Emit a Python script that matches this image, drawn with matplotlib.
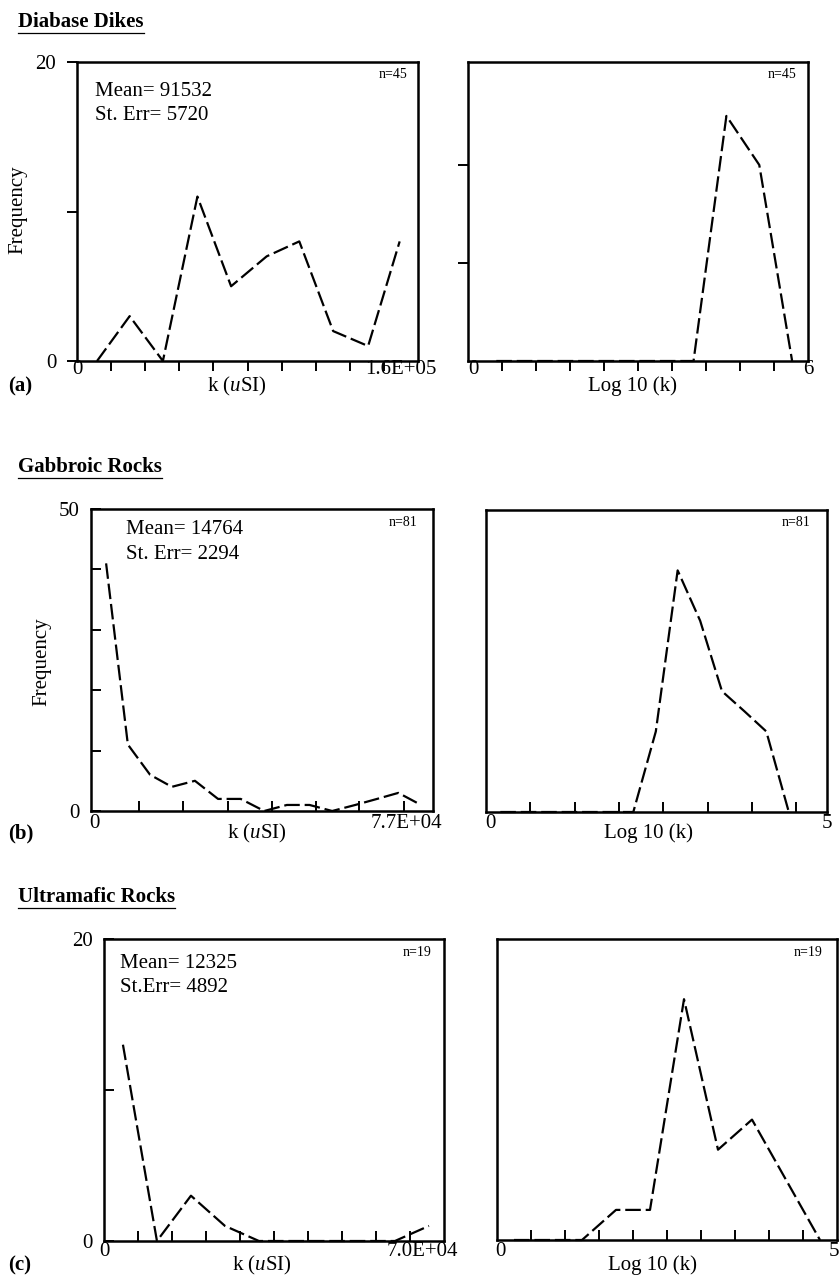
import matplotlib
matplotlib.use('Agg')
import matplotlib.pyplot as plt
from matplotlib.lines import Line2D

# ---------------- data ----------------
a_lin_x = [9400, 24700, 40300, 56500, 72300, 89000, 104300, 120200, 136600, 151400]
a_lin_y = [0, 3, 0, 11, 5, 7, 8, 2, 1, 8]
a_log_x = [0.50, 1.08, 1.66, 2.24, 2.82, 3.40, 3.98, 4.56, 5.14, 5.72]
a_log_y = [0, 0, 0, 0, 0, 0, 0, 25, 20, 0]

b_lin_x = [3400, 8300, 13300, 18200, 23400, 28600, 33700, 39000, 44100, 49200,
           54300, 59500, 64400, 69200, 74300]
b_lin_y = [41, 11, 6, 4, 5, 2, 2, 0, 1, 1, 0, 1, 2, 3, 1]
b_log_x = [0.21, 0.54, 0.86, 1.19, 1.51, 1.84, 2.16, 2.49, 2.81, 3.14, 3.46, 3.79, 4.11, 4.44]
b_log_y = [0, 0, 0, 0, 0, 0, 0, 8, 24, 19, 12, 10, 8, 0]

c_lin_x = [3900, 10900, 17900, 24900, 31900, 38900, 45900, 52900, 59900, 66900]
c_lin_y = [13, 0, 3, 1, 0, 0, 0, 0, 0, 1]
c_log_x = [0.25, 0.75, 1.25, 1.75, 2.25, 2.75, 3.25, 3.75, 4.25, 4.75]
c_log_y = [0, 0, 0, 1, 1, 8, 3, 4, 2, 0]

titles = ["Diabase Dikes", "Gabbroic Rocks", "Ultramafic Rocks"]
panel_tags = ["(a)", "(b)", "(c)"]
stats = [["Mean= 91532", "St. Err= 5720"],
         ["Mean= 14764", "St. Err= 2294"],
         ["Mean= 12325", "St.Err= 4892"]]
counts = ["n=45", "n=81", "n=19"]
lin_max_labels = ["1.6E+05", "7.7E+04", "7.0E+04"]
log_max_labels = ["6", "5", "5"]
lin_xlabel = "k ($u$SI)"
log_xlabel = "Log 10 (k)"
ylabel = "Frequency"

# ---------------- styling ----------------
plt.rcParams['font.family'] = ['Liberation Serif', 'DejaVu Serif']
plt.rcParams['font.size'] = 15
plt.rcParams['mathtext.fontset'] = 'custom'
plt.rcParams['mathtext.rm'] = 'Liberation Serif'
plt.rcParams['mathtext.it'] = 'Liberation Serif:italic'

W, H = 840, 1279
fig = plt.figure(figsize=(W / 100, H / 100), dpi=100)


def rect(x0, y0, x1, y1):
    return [x0 / W, 1 - y1 / H, (x1 - x0) / W, (y1 - y0) / H]


def ftext(x, y, s, **kw):
    return fig.text(x / W, 1 - y / H, s, **kw)


def panel(box, xs, ys, xlim, ylim, xticks, yticks, ylabels, tickdir):
    ax = fig.add_axes(rect(*box))
    ax.plot(xs, ys, color='black', lw=1.6, dashes=(7, 2.2), clip_on=False,
            solid_capstyle='butt', dash_capstyle='butt')
    ax.set_xlim(*xlim)
    ax.set_ylim(*ylim)
    ax.set_xticks(xticks)
    ax.set_xticklabels([])
    ax.set_yticks(yticks)
    ax.set_yticklabels(ylabels if ylabels else [''] * len(yticks))
    ax.tick_params(direction=tickdir, length=7, width=1.4, pad=8, labelsize=15)
    for s in ax.spines.values():
        s.set_linewidth(1.8)
    return ax


# boxes in pixel coords (x0, y0, x1, y1)
boxes_lin = [(77, 62, 418, 361), (91, 509, 433, 811), (104, 939, 444, 1241)]
boxes_log = [(468, 62, 808, 361), (486, 510, 827, 812), (497, 939, 837, 1240)]

# --- row (a)
panel(boxes_lin[0], a_lin_x, a_lin_y, (0, 160000), (0, 20),
      [16000 * i for i in range(1, 10)], [0, 10, 20], ['0', '', '20'], 'out')
panel(boxes_log[0], a_log_x, a_log_y, (0, 6), (0, 30.5),
      [0.6 * i for i in range(1, 10)], [10, 20], None, 'out')

# --- row (b)
panel(boxes_lin[1], b_lin_x, b_lin_y, (0, 77000), (0, 50),
      [10870, 20800, 30800, 40700, 50600, 60450, 70500], [0, 10, 20, 30, 40, 50],
      ['0', '', '', '', '', '50'], 'in')
panel(boxes_log[1], b_log_x, b_log_y, (0, 5), (0, 30),
      [0.65 * i for i in range(1, 8)], [], None, 'in')

# --- row (c)
panel(boxes_lin[2], c_lin_x, c_lin_y, (0, 70000), (0, 20),
      [7000 * i for i in range(1, 10)], [0, 10, 20], ['0', '', '20'], 'in')
panel(boxes_log[2], c_log_x, c_log_y, (0, 5), (0, 10),
      [0.5 * i for i in range(1, 10)], [], None, 'in')

# --- titles with underline
title_y = [22, 467, 897]
for ty, t in zip(title_y, titles):
    txt = ftext(18, ty, t, fontweight='bold', ha='left', va='center')
    fig.canvas.draw()
    bb = txt.get_window_extent(fig.canvas.get_renderer())
    fig.add_artist(Line2D([bb.x0 / W, bb.x1 / W], [(bb.y0 - 1) / H, (bb.y0 - 1) / H],
                          transform=fig.transFigure, color='black', lw=0.9))

# --- x tick labels, xlabels, tags
tick_y = [369, 824, 1251]
xlab_y = [386, 833, 1265]
lin_zero_x = [77, 94, 104]
lin_max_x = [401, 406, 422]
log_zero_x = [473, 490, 500]
log_max_x = [808, 827, 834]
lin_xlab_x = [237, 257, 262]
log_xlab_x = [632, 648, 652]
for i in range(3):
    ftext(lin_zero_x[i], tick_y[i], '0', ha='center', va='center')
    ftext(lin_max_x[i], tick_y[i], lin_max_labels[i], ha='center', va='center')
    ftext(log_zero_x[i], tick_y[i], '0', ha='center', va='center')
    ftext(log_max_x[i], tick_y[i], log_max_labels[i], ha='center', va='center')
    ftext(lin_xlab_x[i], xlab_y[i], lin_xlabel, ha='center', va='center')
    ftext(log_xlab_x[i], xlab_y[i], log_xlabel, ha='center', va='center')
    ftext(8, xlab_y[i], panel_tags[i], fontweight='bold', ha='left', va='center')

# --- Frequency labels
ftext(18, 210, ylabel, rotation=90, ha='center', va='center')
ftext(42, 662, ylabel, rotation=90, ha='center', va='center')

# --- stats text
stat_pos = [(95, 91, 115), (126, 530, 555), (120, 964, 988)]
for (sx, y1, y2), (l1, l2) in zip(stat_pos, stats):
    ftext(sx, y1, l1, ha='left', va='center')
    ftext(sx, y2, l2, ha='left', va='center')

# --- n labels
n_pos = [[(407, 75), (796, 75)], [(417, 523), (810, 523)], [(432, 953), (823, 953)]]
for i in range(3):
    for (nx, ny) in n_pos[i]:
        ftext(nx, ny, counts[i], ha='right', va='center', fontsize=10)

fig.savefig('out.png', dpi=100)
